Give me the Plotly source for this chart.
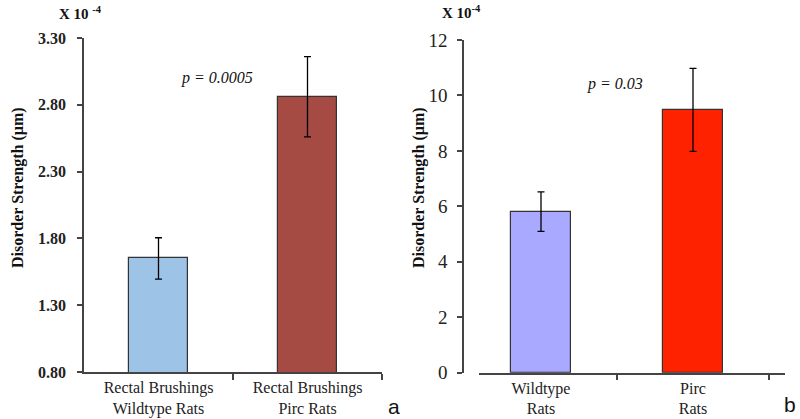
import plotly.graph_objects as go

# Panel a data (units x 10^-4 µm)
cats_a = ["Rectal Brushings<br>Wildtype Rats", "Rectal Brushings<br>Pirc Rats"]
vals_a = [1.65, 2.86]
err_a = [0.155, 0.30]
colors_a = ["#9DC3E6", "#A64B44"]
yticks_a = [0.80, 1.30, 1.80, 2.30, 2.80, 3.30]

# Panel b data (units x 10^-4 µm)
cats_b = ["Wildtype<br>Rats", "Pirc<br>Rats"]
vals_b = [5.81, 9.48]
err_b = [0.71, 1.50]
colors_b = ["#A9A9FF", "#FF2200"]
yticks_b = [0, 2, 4, 6, 8, 10, 12]

W, H = 800, 419
def px(x): return x / W
def py(y): return (H - y) / H

serif = "Liberation Serif, Times New Roman, serif"

fig = go.Figure()
fig.add_trace(go.Bar(
    x=[0, 1], y=vals_a, width=0.4, marker=dict(color=colors_a, line=dict(color="#333333", width=1.2)),
    error_y=dict(type="data", array=err_a, color="black", thickness=1.3, width=3.5),
    xaxis="x", yaxis="y", showlegend=False, hoverinfo="skip"))
fig.add_trace(go.Bar(
    x=[0, 1], y=vals_b, width=0.4, marker=dict(color=colors_b, line=dict(color="#333333", width=1.2)),
    error_y=dict(type="data", array=err_b, color="black", thickness=1.3, width=3.5),
    xaxis="x2", yaxis="y2", showlegend=False, hoverinfo="skip"))

axis_common = dict(showgrid=False, zeroline=False, showline=True, linecolor="#444444", linewidth=1.5,
                   automargin=False)

fig.update_layout(
    width=W, height=H, autosize=False,
    margin=dict(l=0, r=0, t=0, b=0, pad=0),
    plot_bgcolor="white", paper_bgcolor="white",
    xaxis=dict(domain=[px(84), px(382)], range=[-0.5, 1.5], anchor="y",
               tickmode="array", tickvals=[0, 1], ticktext=cats_a, ticks="",
               tickfont=dict(family=serif, size=16, color="#222222"),
               minor=dict(tickmode="array", tickvals=[0.5, 1.5], ticks="outside", ticklen=6,
                          tickcolor="#444444", tickwidth=1.5),
               **axis_common),
    yaxis=dict(domain=[py(372), py(38)], range=[0.8, 3.3], anchor="x",
               tickmode="array", tickvals=yticks_a, tickformat=".2f", ticks="outside",
               ticklen=5, tickcolor="#444444", tickwidth=1.5, ticklabelstandoff=8,
               tickfont=dict(family=serif, size=16, color="#222222", weight="bold"),
               **axis_common),
    xaxis2=dict(domain=[px(479), px(785)], range=[(479 - 541) / 152, (785 - 541) / 152], anchor="y2",
                tickmode="array", tickvals=[0, 1], ticktext=cats_b, ticks="",
                tickfont=dict(family=serif, size=16, color="#222222"),
                minor=dict(tickmode="array", tickvals=[0.5, 1.5], ticks="outside", ticklen=6,
                           tickcolor="#444444", tickwidth=1.5),
                **axis_common),
    yaxis2=dict(domain=[py(372.7), py(40)], range=[0, 12], anchor="free", position=px(463),
                tickmode="array", tickvals=yticks_b, ticks="outside",
                ticklen=5, tickcolor="#444444", tickwidth=1.5, ticklabelstandoff=6,
                tickfont=dict(family=serif, size=19, color="#222222"),
                **axis_common),
    bargap=0,
)

def note(x, y, text, size, family=serif, angle=0):
    return dict(x=px(x), y=py(y), xref="paper", yref="paper", text=text, textangle=angle,
                xanchor="center", yanchor="middle", showarrow=False,
                font=dict(family=family, size=size, color="#111111"))

sans = "Liberation Sans, Arial, sans-serif"
ann = [
    note(18, 188, "<b>Disorder Strength (µm)</b>", 16, angle=-90),
    note(419, 188, "<b>Disorder Strength (µm)</b>", 16, angle=-90),
    note(80, 13, "<b>X 10 <sup>-4</sup></b>", 15),
    note(461, 12, "<b>X 10<sup>-4</sup></b>", 15),
    note(217, 78, "<i>p = 0.0005</i>", 16),
    note(615, 84, "<i>p = 0.03</i>", 16),
    note(394, 406, "a", 21, family=sans),
    note(790, 404, "b", 21, family=sans),
]
fig.update_layout(annotations=ann)

fig.write_html("out.html", config={"displayModeBar": False},
               post_script="document.body.style.margin='0';document.body.style.overflow='hidden';")
